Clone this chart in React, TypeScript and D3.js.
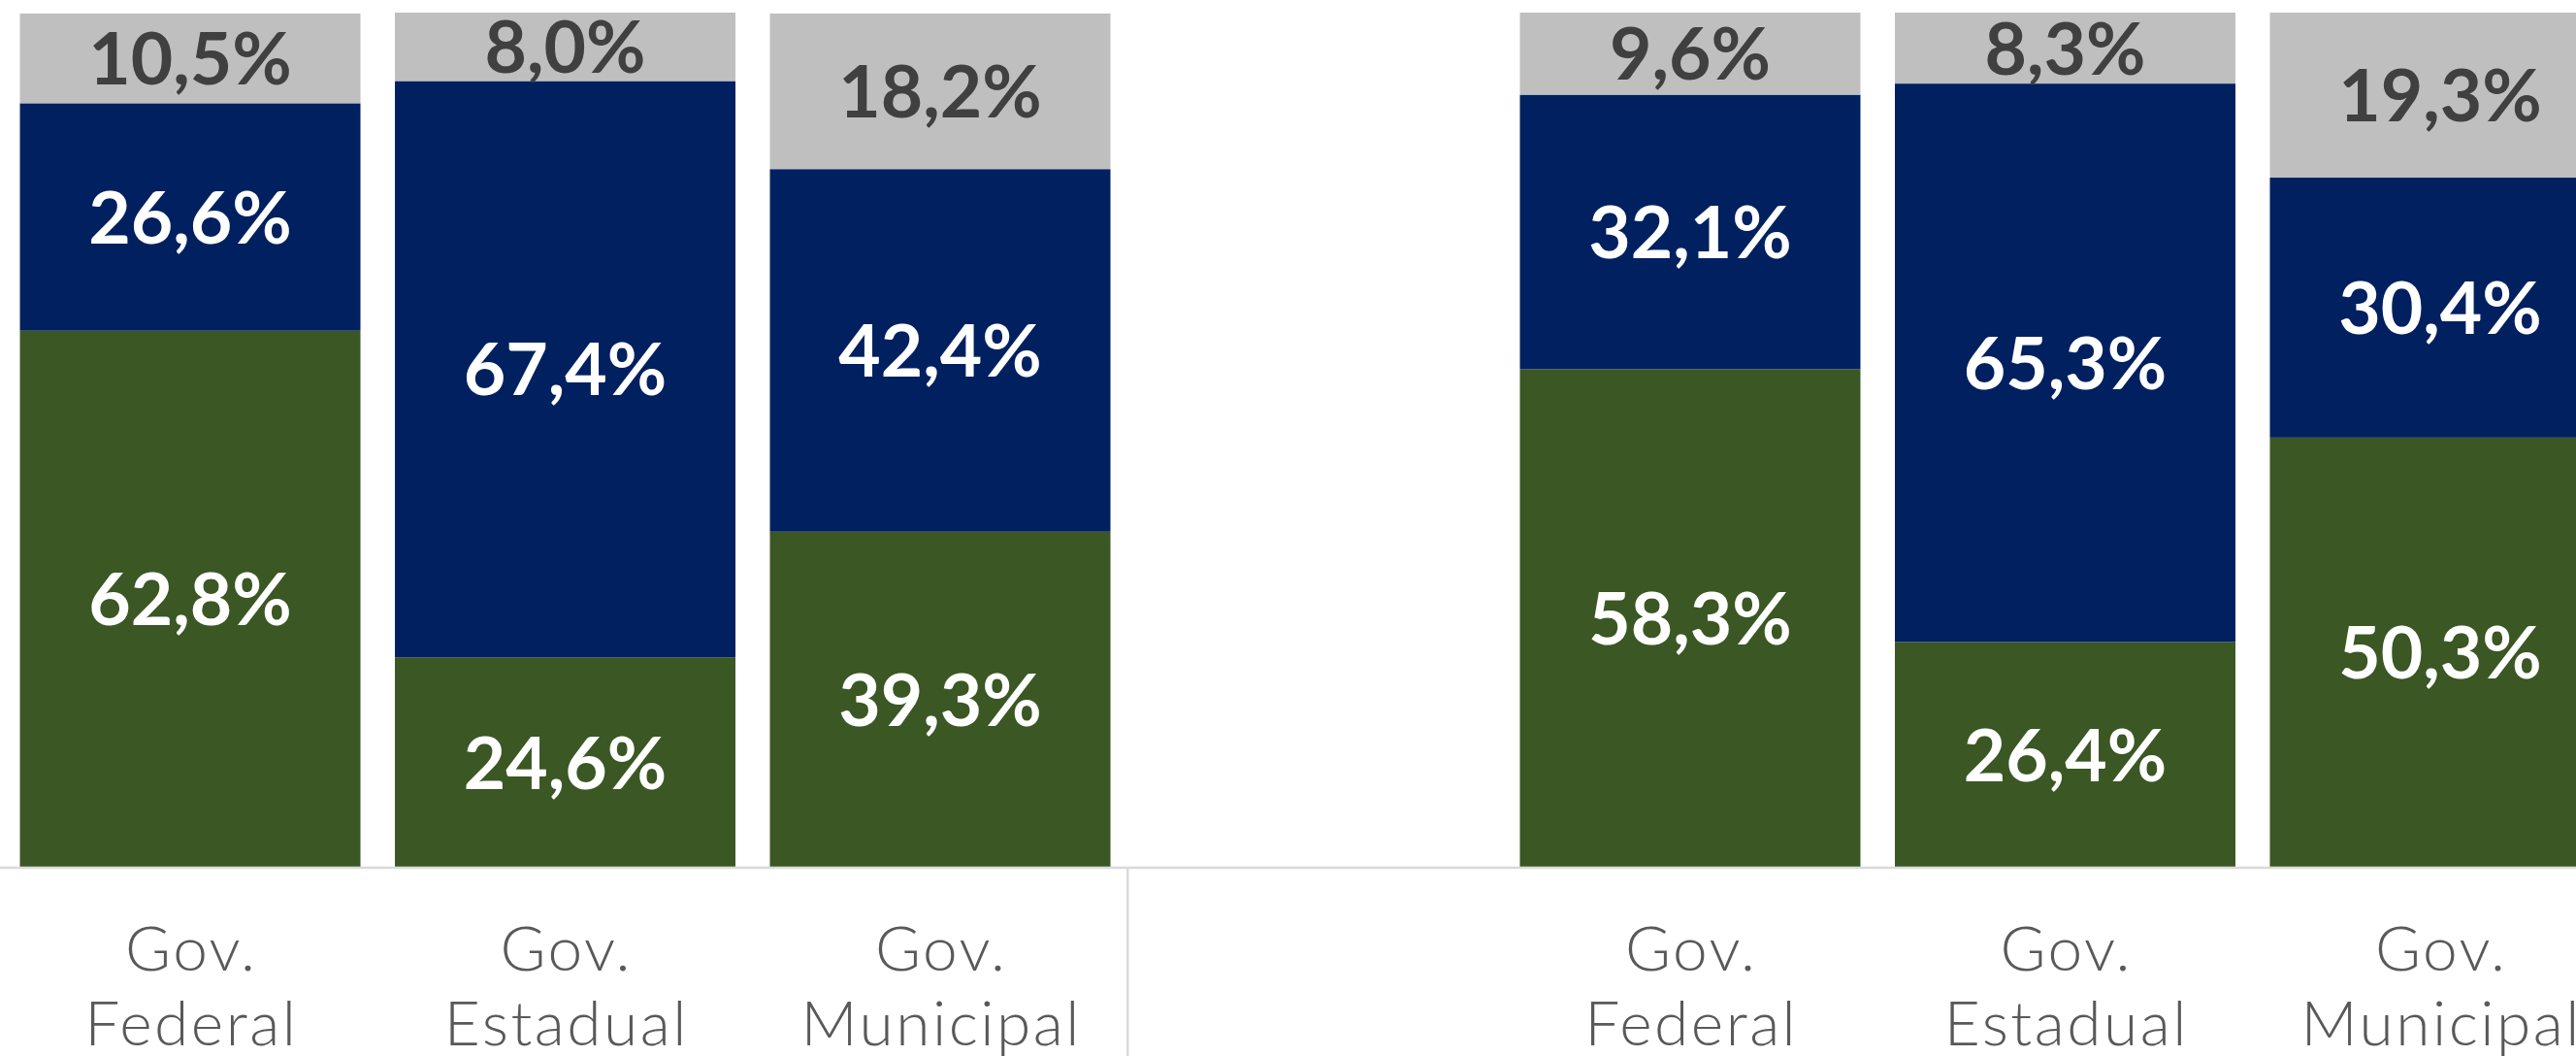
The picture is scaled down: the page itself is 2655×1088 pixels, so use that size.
import React from "react";
import * as d3 from "d3";

const slots = ["F1", "E1", "M1", "gap", "F2", "E2", "M2"];
const categoryLines = [
  ["Gov.", "Federal"],
  ["Gov.", "Estadual"],
  ["Gov.", "Municipal"],
  null,
  ["Gov.", "Federal"],
  ["Gov.", "Estadual"],
  ["Gov.", "Municipal"],
];
const seriesKeys = ["green", "blue", "gray"];
const greenValues = [62.8, 24.6, 39.3, null, 58.3, 26.4, 50.3];
const blueValues = [26.6, 67.4, 42.4, null, 32.1, 65.3, 30.4];
const grayValues = [10.5, 8.0, 18.2, null, 9.6, 8.3, 19.3];

const W = 2655;
const H = 1088;
const colors: Record<string, string> = { green: "#3A5724", blue: "#002060", gray: "#BFBFBF" };
const labelColors: Record<string, string> = { green: "#FFFFFF", blue: "#FFFFFF", gray: "#404040" };

export default function App() {
  const x = d3
    .scaleBand<string>()
    .domain(slots)
    .range([2.75, 2708.25])
    .paddingInner(0.0919)
    .paddingOuter(0.046);
  const y = d3.scaleLinear().domain([0, 100]).range([894, 13]);

  const rows = slots.map((s, i) => ({
    slot: s,
    green: greenValues[i] ?? 0,
    blue: blueValues[i] ?? 0,
    gray: grayValues[i] ?? 0,
    empty: greenValues[i] == null,
  }));
  const stack = d3.stack<any>().keys(seriesKeys)(rows);
  const fmt = (v: number) => v.toFixed(1).replace(".", ",") + "%";
  const dividerX = (x("M1")! + x.bandwidth() / 2 + x("gap")! + x.bandwidth() / 2) / 2;
  const ls = 2.5;

  return (
    <svg
      width={W}
      height={H}
      style={{ position: "absolute", left: 0, top: 0, background: "#fff" }}
    >
      {stack.map((layer) => (
        <g key={layer.key}>
          {layer.map((d, i) =>
            rows[i].empty ? null : (
              <rect
                key={i}
                x={x(rows[i].slot)}
                y={y(d[1])}
                width={x.bandwidth()}
                height={y(d[0]) - y(d[1])}
                fill={colors[layer.key]}
              />
            )
          )}
        </g>
      ))}
      {stack.map((layer) => (
        <g key={"l" + layer.key}>
          {layer.map((d, i) =>
            rows[i].empty ? null : (
              <text
                key={i}
                x={x(rows[i].slot)! + x.bandwidth() / 2}
                y={(y(d[0]) + y(d[1])) / 2}
                dy="0.36em"
                textAnchor="middle"
                fontFamily="Lato, 'Noto Sans', sans-serif"
                fontWeight="bold"
                fontSize={75}
                fill={labelColors[layer.key]}
              >
                {fmt(d[1] - d[0])}
              </text>
            )
          )}
        </g>
      ))}
      <line x1={0} x2={W} y1={894} y2={894} stroke="#D9D9D9" strokeWidth={2.5} />
      <line x1={dividerX} x2={dividerX} y1={894} y2={H} stroke="#D9D9D9" strokeWidth={2.5} />
      {rows.map((r, i) =>
        categoryLines[i] ? (
          <text
            key={"c" + i}
            textAnchor="middle"
            fontFamily="Lato, 'Noto Sans', sans-serif"
            fontWeight={300}
            fontSize={64}
            letterSpacing={ls}
            fill="#595959"
          >
            {categoryLines[i]!.map((t, j) => (
              <tspan key={j} x={x(r.slot)! + x.bandwidth() / 2 + ls / 2} y={1000 + j * 77}>
                {t}
              </tspan>
            ))}
          </text>
        ) : null
      )}
    </svg>
  );
}
